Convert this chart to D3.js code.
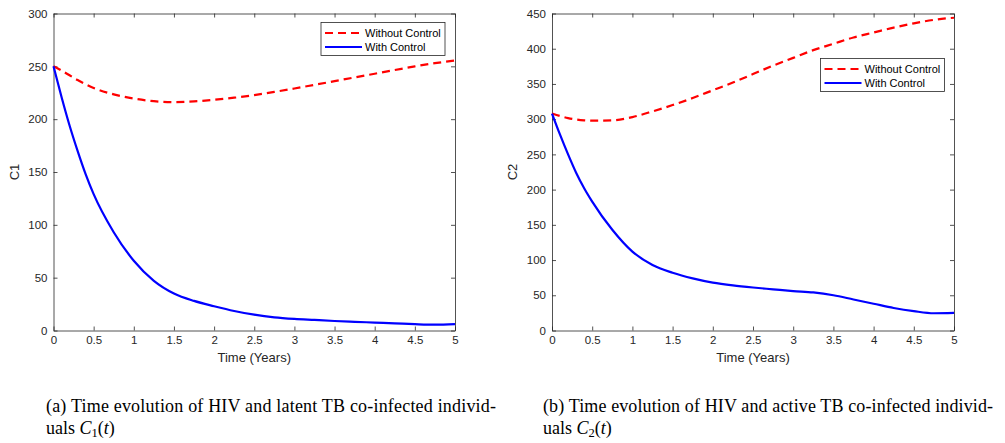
<!DOCTYPE html>
<html>
<head>
<meta charset="utf-8">
<script src="https://cdn.jsdelivr.net/npm/d3@7"></script>
<style>
  body { margin: 0; background: #fff; }
  svg { display: block; }
  .tick text { font-family: "Liberation Sans", Arial, sans-serif; font-size: 11.5px; fill: #262626; }
  .axis-label { font-family: "Liberation Sans", Arial, sans-serif; font-size: 13px; fill: #262626; }
  .legend-text { font-family: "Liberation Sans", Arial, sans-serif; font-size: 11px; fill: #000; }
  .caption { font-family: "Liberation Serif", "Times New Roman", Times, serif; font-size: 18px; fill: #000; }
</style>
</head>
<body>
<div id="chart"></div>
<script>
// time grid (years), shared by every series
const timeYears = [0, 0.1, 0.2, 0.3, 0.4, 0.5, 0.75, 1, 1.25, 1.5, 1.75, 2, 2.25, 2.5,
  2.75, 3, 3.25, 3.5, 3.75, 4, 4.25, 4.5, 4.75, 5];

// C1: HIV + latent TB
const c1Without = [250, 246, 241.5, 237, 233, 229.5, 223.5, 219.5, 217, 216.2, 216.8, 218.3,
  220.3, 222.8, 225.8, 229, 232.5, 236, 239.5, 243, 246.5, 250, 253, 255.5];
const c1With = [250, 221, 194, 170, 148, 129, 93, 66, 47, 35, 28, 23, 18.5, 15, 12.5, 11,
  10, 9, 8.2, 7.5, 6.8, 6, 5.5, 6];

// C2: HIV + active TB
const c2Without = [308, 304.5, 301.5, 299.5, 298.3, 297.8, 298.3, 303, 311, 320, 330, 341,
  352, 364, 376, 387, 398, 407, 416, 423, 430, 436, 441, 444];
const c2With = [308, 278, 250, 224, 202, 183, 143, 112, 93, 82, 74, 68, 64, 61, 58.5, 56,
  54, 50, 44, 38, 32, 27.5, 24.5, 25];

const xTicks = [0, 0.5, 1, 1.5, 2, 2.5, 3, 3.5, 4, 4.5, 5];
const c1Ticks = [0, 50, 100, 150, 200, 250, 300];
const c2Ticks = [0, 50, 100, 150, 200, 250, 300, 350, 400, 450];
const legendLabels = ['Without Control', 'With Control'];

const width = 1005, height = 443;
const svg = d3.select('#chart').append('svg')
  .attr('width', width)
  .attr('height', height);

const fmt = d => String(d);

function drawPanel(opts) {
  const { left, right, top, bottom, yMax, yTicks, yLabel, series, legend } = opts;

  const x = d3.scaleLinear().domain([0, 5]).range([left, right]);
  const y = d3.scaleLinear().domain([0, yMax]).range([bottom, top]);

  const g = svg.append('g');

  // axes, ticks point inward like matlab
  g.append('g')
    .attr('transform', `translate(0,${bottom})`)
    .call(d3.axisBottom(x).tickValues(xTicks).tickFormat(fmt).tickSizeInner(-4).tickSizeOuter(0).tickPadding(5));
  g.append('g')
    .attr('transform', `translate(0,${top})`)
    .call(d3.axisTop(x).tickValues(xTicks).tickFormat('').tickSizeInner(-4).tickSizeOuter(0));
  g.append('g')
    .attr('transform', `translate(${left},0)`)
    .call(d3.axisLeft(y).tickValues(yTicks).tickFormat(fmt).tickSizeInner(-4).tickSizeOuter(0).tickPadding(6));
  g.append('g')
    .attr('transform', `translate(${right},0)`)
    .call(d3.axisRight(y).tickValues(yTicks).tickFormat('').tickSizeInner(-4).tickSizeOuter(0));

  g.selectAll('.domain, .tick line').attr('stroke', '#262626').attr('stroke-width', 0.8);

  // curves
  const line = d3.line()
    .x((d, i) => x(timeYears[i]))
    .y(d => y(d))
    .curve(d3.curveMonotoneX);

  series.forEach(s => {
    g.append('path')
      .attr('d', line(s.values))
      .attr('fill', 'none')
      .attr('stroke', s.color)
      .attr('stroke-width', 2.2)
      .attr('stroke-dasharray', s.dash || null);
  });

  // axis labels
  g.append('text')
    .attr('class', 'axis-label')
    .attr('x', (left + right) / 2)
    .attr('y', bottom + 31)
    .attr('text-anchor', 'middle')
    .text('Time (Years)');

  g.append('text')
    .attr('class', 'axis-label')
    .attr('transform', `translate(${left - 35},${(top + bottom) / 2}) rotate(-90)`)
    .attr('text-anchor', 'middle')
    .text(yLabel);

  // legend
  const lg = g.append('g').attr('transform', `translate(${legend.x},${legend.y})`);
  lg.append('rect')
    .attr('width', 124)
    .attr('height', 33)
    .attr('fill', '#fff')
    .attr('stroke', '#262626')
    .attr('stroke-width', 0.8);

  series.forEach((s, i) => {
    const ly = 10.5 + i * 14;
    lg.append('line')
      .attr('x1', 4).attr('x2', 41)
      .attr('y1', ly).attr('y2', ly)
      .attr('stroke', s.color)
      .attr('stroke-width', 2.2)
      .attr('stroke-dasharray', s.dash || null);
    lg.append('text')
      .attr('class', 'legend-text')
      .attr('x', 44)
      .attr('y', ly + 4)
      .text(legendLabels[i]);
  });
}

drawPanel({
  left: 53.5, right: 455, top: 13.5, bottom: 330.5,
  yMax: 300, yTicks: c1Ticks, yLabel: 'C1',
  legend: { x: 321, y: 22.5 },
  series: [
    { values: c1Without, color: '#ff0000', dash: '8,5' },
    { values: c1With, color: '#0000ff' }
  ]
});

drawPanel({
  left: 552, right: 954, top: 13.5, bottom: 330.5,
  yMax: 450, yTicks: c2Ticks, yLabel: 'C2',
  legend: { x: 820.5, y: 58.5 },
  series: [
    { values: c2Without, color: '#ff0000', dash: '8,5' },
    { values: c2With, color: '#0000ff' }
  ]
});

// captions, line 1 stretched to the column width like the latex justify
function caption(x0, line1, sub) {
  svg.append('text')
    .attr('class', 'caption')
    .attr('x', x0)
    .attr('y', 412)
    .attr('textLength', 450)
    .attr('lengthAdjust', 'spacing')
    .text(line1);

  const t = svg.append('text')
    .attr('class', 'caption')
    .attr('x', x0)
    .attr('y', 434);
  t.append('tspan').text('uals ');
  t.append('tspan').attr('font-style', 'italic').text('C');
  t.append('tspan').attr('font-size', '12.5px').attr('dy', 3).text(sub);
  t.append('tspan').attr('dy', -3).text('(');
  t.append('tspan').attr('font-style', 'italic').text('t');
  t.append('tspan').text(')');
}

caption(46, '(a) Time evolution of HIV and latent TB co-infected individ-', '1');
caption(543, '(b) Time evolution of HIV and active TB co-infected individ-', '2');
</script>
</body>
</html>
